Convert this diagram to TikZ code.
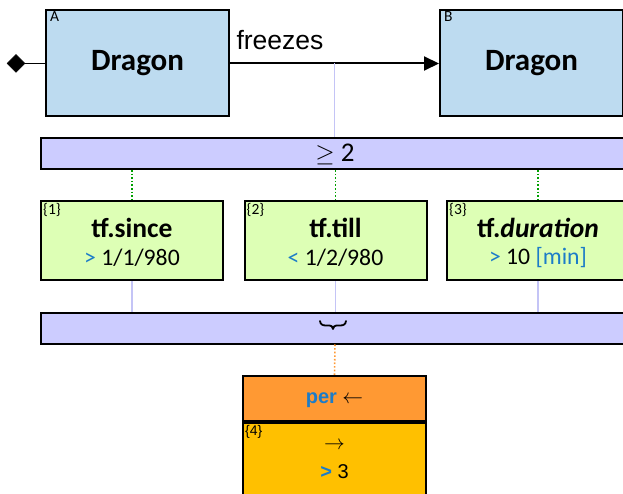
\documentclass[tikz,border=0pt]{standalone}
\usepackage{fontspec}
\setmainfont{Carlito}
\newfontfamily\arial{Liberation Sans}
\usetikzlibrary{arrows.meta,calc,shapes.geometric}
\definecolor{boxblue}{HTML}{BDDBF0}
\definecolor{barlav}{HTML}{CCCCFF}
\definecolor{lgreen}{HTML}{DDFFB5}
\definecolor{tblue}{HTML}{1C7CC8}
\definecolor{porange}{HTML}{FF9933}
\definecolor{pyellow}{HTML}{FFC000}
\definecolor{dgreen}{HTML}{00A000}
\definecolor{llav}{HTML}{C4C4F6}
\tikzset{
  entity/.style={draw=black, line width=2pt, fill=boxblue, minimum width=183pt, minimum height=106pt, inner sep=0pt, font=\fontsize{31}{34}\selectfont\bfseries},
  bar/.style={draw=black, line width=2pt, fill=barlav, minimum width=588pt, minimum height=31pt, inner sep=0pt},
  cond/.style={draw=black, line width=2pt, fill=lgreen, minimum width=182pt, minimum height=79pt, inner sep=0pt},
  idx/.style={anchor=north west, inner sep=0pt, font=\fontsize{15.5}{17}\selectfont},
  ttl/.style={inner sep=0pt, font=\fontsize{27.5}{30}\selectfont\bfseries},
  val/.style={inner sep=0pt, font=\fontsize{23.7}{26}\selectfont},
  lavline/.style={draw=llav, line width=1.3pt},
  gdot/.style={draw=dgreen, line width=1.6pt, dotted},
  odot/.style={draw=porange, line width=1.6pt, dotted},
  startdia/.style={diamond, fill=black, draw=black, line width=0.5pt, inner sep=0pt, minimum width=18pt, minimum height=18pt},
}
\begin{document}
\begin{tikzpicture}[x=1pt,y=-1pt]
\clip (0,0) rectangle (623,494);
\fill[white] (0,0) rectangle (623,494);
% top entities
\node[entity] (A) at (137.5,63.5) {Dragon};
\node[entity] (B) at (531.5,63.5) {Dragon};
\node[idx] at ([shift={(5,2)}]A.north west) {A};
\node[idx] at ([shift={(5,2)}]B.north west) {B};
\node[startdia] (d) at (16,63.5) {};
\draw[line width=1.8pt] (d) -- (A.west);
\draw[line width=2pt, -{Triangle[length=15pt,width=14pt]}] (A.east) -- (B.west)
  coordinate[pos=0.5] (m);
\node[anchor=base, inner sep=0pt, font=\arial\fontsize{26.5}{30}\selectfont] (fr) at (280,50) {freezes};
% bar 1
\node[bar] (bar1) at (335,153.5) {};
\node[inner sep=0pt, font=\fontsize{27}{30}\selectfont] (ge) at (335,154) {$\geq$ 2};
\draw[lavline] (m) -- (bar1.north -| m);
% condition boxes
\node[cond] (c1) at (132,240.5) {};
\node[cond] (c2) at (335.5,240.5) {};
\node[cond] (c3) at (538,240.5) {};
\node[idx] at ([shift={(3,3)}]c1.north west) {\{1\}};
\node[idx] at ([shift={(3,3)}]c2.north west) {\{2\}};
\node[idx] at ([shift={(3,3)}]c3.north west) {\{3\}};
\node[ttl] (t1) at (132,228) {tf.since};
\node[ttl] (t2) at (335.5,228) {tf.till};
\node[ttl] (t3) at (538,228) {tf.\textit{duration}};
\node[val] (v1) at (132,258) {\textcolor{tblue}{>} 1/1/980};
\node[val] (v2) at (335.5,258) {\textcolor{tblue}{<} 1/2/980};
\node[val] (v3) at (538,258) {\textcolor{tblue}{>} 10 \textcolor{tblue}{[min]}};
\draw[gdot] (bar1.south -| c1) -- (c1.north);
\draw[gdot] (bar1.south -| c2) -- (c2.north);
\draw[gdot] (bar1.south -| c3) -- (c3.north);
% bar 2
\node[bar] (bar2) at (335,328) {};
\draw[line width=1.8pt, line cap=round, line join=round]
  (320,321) .. controls (320.5,324.5) and (322.5,325.5) .. (326,325.5) -- (329.5,325.5)
  .. controls (331.5,325.5) and (332.5,326.5) .. (333,329)
  .. controls (333.5,326.5) and (334.5,325.5) .. (336.5,325.5) -- (340,325.5)
  .. controls (343.5,325.5) and (345.5,324.5) .. (346,321);
\draw[lavline] (c1.south) -- (bar2.north -| c1);
\draw[lavline] (c2.south) -- (bar2.north -| c2);
\draw[lavline] (c3.south) -- (bar2.north -| c3);
% per box
\node[draw=black, line width=2pt, fill=porange, minimum width=183pt, minimum height=45pt, inner sep=0pt] (per) at (334.5,398.5) {};
\node[draw=black, line width=2pt, fill=pyellow, minimum width=183pt, minimum height=100pt, inner sep=0pt, anchor=north] (yel) at (per.south) {};
\node[inner sep=0pt, font=\arial\fontsize{20}{24}\selectfont] (pt) at (334.5,400) {\textcolor{tblue}{\bfseries per} $\leftarrow$};
\draw[odot] (bar2.south) -- (per.north);
\node[idx, font=\arial\fontsize{14}{16}\selectfont] at ([shift={(3,3)}]yel.north west) {\{4\}};
\node[inner sep=0pt, font=\fontsize{20}{24}\selectfont] (ra) at (334.5,446) {$\rightarrow$};
\node[inner sep=0pt, font=\arial\fontsize{20}{24}\selectfont] (gt) at (334.5,472) {\textcolor{tblue}{\bfseries >} 3};
\end{tikzpicture}
\end{document}
